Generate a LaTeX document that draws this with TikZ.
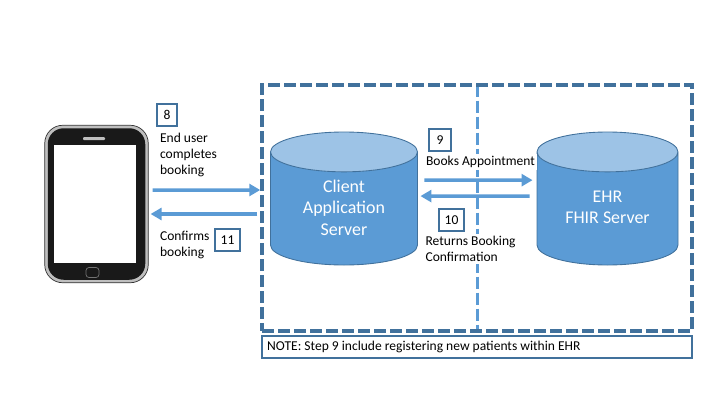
\documentclass[tikz,border=0pt]{standalone}
\usepackage{fontspec}
\setmainfont{Carlito}
\usetikzlibrary{shapes.geometric,arrows.meta,positioning}
\definecolor{edgeblue}{HTML}{41719C}
\definecolor{flowblue}{HTML}{5B9BD5}
\definecolor{topblue}{HTML}{9DC3E6}

\begin{document}
\begin{tikzpicture}[
          every node/.style={font=\fontsize{7.7}{9.3}\selectfont},
          server/.style={cylinder, anchor=shape center, shape border rotate=90, aspect=3.4, draw=edgeblue, line width=0.5pt, cylinder uses custom fill, cylinder body fill=flowblue, cylinder end fill=topblue, minimum height=2.66cm},
          servertext/.style={text=white, align=center, font=\fontsize{10.2}{12.2}\selectfont},
          numbox/.style={rectangle, draw=edgeblue, line width=0.04cm, fill=white, minimum height=0.44cm, inner sep=0pt},
          label/.style={align=left, anchor=west, fill=white, inner sep=1pt},
          region/.style={line width=0.07cm, dash pattern=on 0.24cm off 0.08cm},
          arrow/.style={-{Triangle[length=0.22cm,width=0.24cm]}, flowblue, line width=0.07cm}
        ]
          \useasboundingbox (0,0) rectangle (14.4,8.1);

          % Dashed regions
          \node[rectangle, inner sep=0pt, minimum width=4.28cm, minimum height=4.92cm] (ehrzone) at (11.7,3.94) {};
          \draw[region, flowblue] (ehrzone.north west) -- (ehrzone.south west);
          \node[rectangle, region, draw=edgeblue, inner sep=0pt, minimum width=8.6cm, minimum height=4.92cm] (zone) at (9.54,3.94) {};
          \node[rectangle, draw=edgeblue, line width=0.04cm, minimum width=8.6cm, minimum height=0.44cm, inner sep=0pt] (note) at (9.54,1.16) {};
          \node[anchor=west] (notetext) at (5.22,1.16) {NOTE: Step 9 include registering new patients within EHR};

          % Phone
          \node[rectangle, draw=black!80, fill=black!25, rounded corners=0.36cm, minimum width=2.07cm, minimum height=3.15cm] (phone) at (1.93,4.02) {};
          \node[rectangle, fill=black!90, rounded corners=0.32cm, minimum width=1.95cm, minimum height=3.03cm] (body) at (phone.center) {};
          \node[rectangle, fill=white, minimum width=1.64cm, minimum height=2.35cm] (screen) at (1.9,4.02) {};
          \node[rectangle, fill=black!25, rounded corners=0.02cm, minimum width=0.44cm, minimum height=0.06cm, inner sep=0pt] (speaker) at (1.88,5.33) {};
          \node[rectangle, draw=black!55, fill=black!90, rounded corners=0.06cm, minimum width=0.26cm, minimum height=0.2cm, inner sep=0pt] (home) at (1.85,2.65) {};

          % Servers
          \node[server, minimum width=2.94cm] (client) at (6.88,4.13) {};
          \node[servertext] (clienttext) at (6.88,3.95) {Client\\Application\\Server};
          \node[server, minimum width=2.82cm] (ehr) at (12.15,4.13) {};
          \node[servertext] (ehrtext) at (12.15,3.95) {EHR\\FHIR Server};

          % Labels
          \node[label] (usertext) at (3.16,5.0) {End user\\completes\\booking};
          \node[label] (conftext) at (3.16,3.2) {Confirms\\booking};
          \node[label] (bookstext) at (8.48,4.86) {Books Appointment};
          \node[label] (rettext) at (8.47,3.12) {Returns Booking\\Confirmation};

          % Step numbers
          \node[numbox, minimum width=0.4cm] (step8) at (3.34,5.8) {8};
          \node[numbox, minimum width=0.5cm] (step11) at (4.55,3.3) {11};
          \node[numbox, minimum width=0.44cm] (step9) at (8.8,5.3) {9};
          \node[numbox, minimum width=0.5cm] (step10) at (9.03,3.7) {10};

          % Flows
          \draw[arrow] ([xshift=0.08cm,yshift=0.28cm]phone.east) -- ([yshift=0.36cm]zone.west);
          \draw[arrow] ([xshift=-0.06cm,yshift=-0.12cm]zone.west) -- ([xshift=0.04cm,yshift=-0.2cm]phone.east);
          \draw[arrow] ([xshift=0.13cm,yshift=0.65cm]client.east) -- ([xshift=-0.08cm,yshift=0.65cm]ehr.west);
          \draw[arrow] ([xshift=-0.14cm,yshift=0.33cm]ehr.west) -- ([xshift=0.05cm,yshift=0.33cm]client.east);
\end{tikzpicture}
\end{document}
